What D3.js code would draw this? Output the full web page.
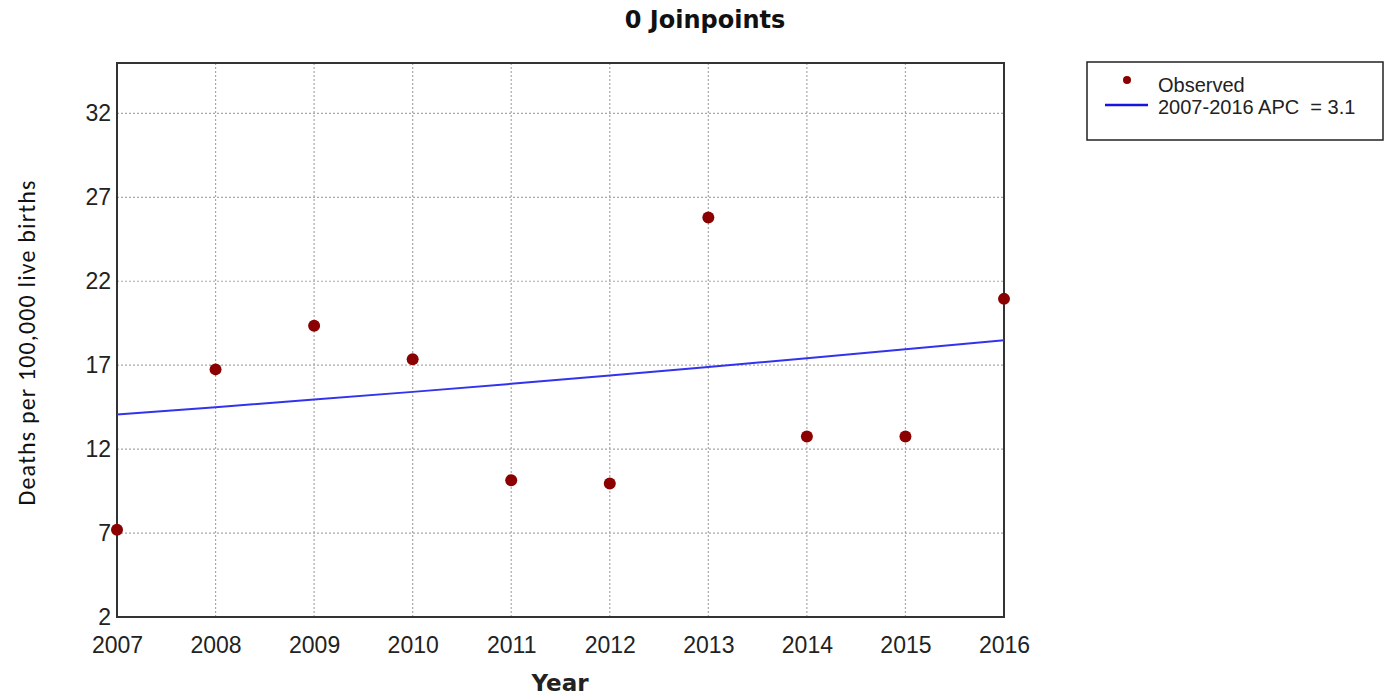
<!DOCTYPE html>
<html><head><meta charset="utf-8">
<script src="https://cdn.jsdelivr.net/npm/d3@7"></script>
<style>body{margin:0;background:#fff;} svg{display:block;}</style>
</head><body>
<svg id="c" width="1386" height="699"></svg>
<script>
const years = [2007,2008,2009,2010,2011,2012,2013,2014,2015,2016];
const observed = [7.2,16.75,19.35,17.35,10.15,9.95,25.8,12.75,12.75,20.95];
const fitted = [14.06,14.5,14.95,15.41,15.89,16.38,16.89,17.41,17.95,18.48];
const yTicks = [2,7,12,17,22,27,32];
const title = "0 Joinpoints";
const xLabel = "Year";
const yLabel = "Deaths per 100,000 live births";
const legendLabels = ["Observed","2007-2016 APC\u00a0 = 3.1"];

const svg = d3.select("#c");
const L=117,R=1004,T=63,B=617;
const x = d3.scaleLinear().domain([2007,2016]).range([L,R]);
const y = d3.scaleLinear().domain([2,35]).range([B,T]);

// grid
const g = svg.append("g");
g.selectAll(".hg").data(yTicks.slice(1)).enter().append("line")
 .attr("x1",L).attr("x2",R).attr("y1",d=>y(d)).attr("y2",d=>y(d))
 .attr("stroke","#a8a8a8").attr("stroke-width",1.2).attr("stroke-dasharray","2,2");
g.selectAll(".vg").data(years.slice(1,-1)).enter().append("line")
 .attr("y1",T).attr("y2",B).attr("x1",d=>x(d)).attr("x2",d=>x(d))
 .attr("stroke","#a8a8a8").attr("stroke-width",1.2).attr("stroke-dasharray","2,2");

// axes
const xa = svg.append("g").attr("transform",`translate(0,${B})`)
 .call(d3.axisBottom(x).tickValues(years).tickFormat(d3.format("d")).tickSize(0).tickPadding(19));
const ya = svg.append("g").attr("transform",`translate(${L},0)`)
 .call(d3.axisLeft(y).tickValues(yTicks).tickSize(0).tickPadding(6));
[xa,ya].forEach(a=>{a.select(".domain").remove();
 a.selectAll("text").attr("font-family","Arial, Liberation Sans, sans-serif").attr("font-size",23).attr("fill","#222");});
xa.selectAll("text").attr("dy","0.75em");

// frame
svg.append("rect").attr("x",L).attr("y",T).attr("width",R-L).attr("height",B-T)
 .attr("fill","none").attr("stroke","#333").attr("stroke-width",2);

// fitted line
svg.append("path").datum(years.map((d,i)=>[d,fitted[i]]))
 .attr("d",d3.line().x(d=>x(d[0])).y(d=>y(d[1])))
 .attr("fill","none").attr("stroke","#3333ee").attr("stroke-width",2);

// points
svg.selectAll(".pt").data(years.map((d,i)=>[d,observed[i]])).enter().append("circle")
 .attr("cx",d=>x(d[0])).attr("cy",d=>y(d[1])).attr("r",6).attr("fill","#8b0000");

// title
svg.append("text").attr("x",705).attr("y",28).attr("text-anchor","middle")
 .attr("font-family","DejaVu Sans, Verdana, sans-serif").attr("font-weight","bold").attr("font-size",24)
 .attr("fill","#111").text(title);
svg.append("text").attr("x",560).attr("y",691).attr("text-anchor","middle")
 .attr("font-family","DejaVu Sans, Verdana, sans-serif").attr("font-weight","bold").attr("font-size",23)
 .attr("fill","#222").text(xLabel);
svg.append("text").attr("transform","translate(35,343) rotate(-90)").attr("text-anchor","middle")
 .attr("font-family","Carlito, Open Sans, Liberation Sans, sans-serif").attr("font-size",24)
 .attr("textLength",325).attr("fill","#111").text(yLabel);

// legend
const lg = svg.append("g");
lg.append("rect").attr("x",1087).attr("y",62).attr("width",296).attr("height",78)
 .attr("fill","#fff").attr("stroke","#222").attr("stroke-width",1.5);
lg.append("circle").attr("cx",1127).attr("cy",80).attr("r",4).attr("fill","#8b0000");
lg.append("line").attr("x1",1105).attr("x2",1148).attr("y1",105).attr("y2",105).attr("stroke","#1515dd").attr("stroke-width",2.5);
lg.selectAll(".lt").data(legendLabels).enter().append("text")
 .attr("x",1158).attr("y",(d,i)=>92+i*22)
 .attr("font-family","Arial, Liberation Sans, sans-serif").attr("font-size",20).attr("fill","#222").text(d=>d);
</script>
</body></html>
